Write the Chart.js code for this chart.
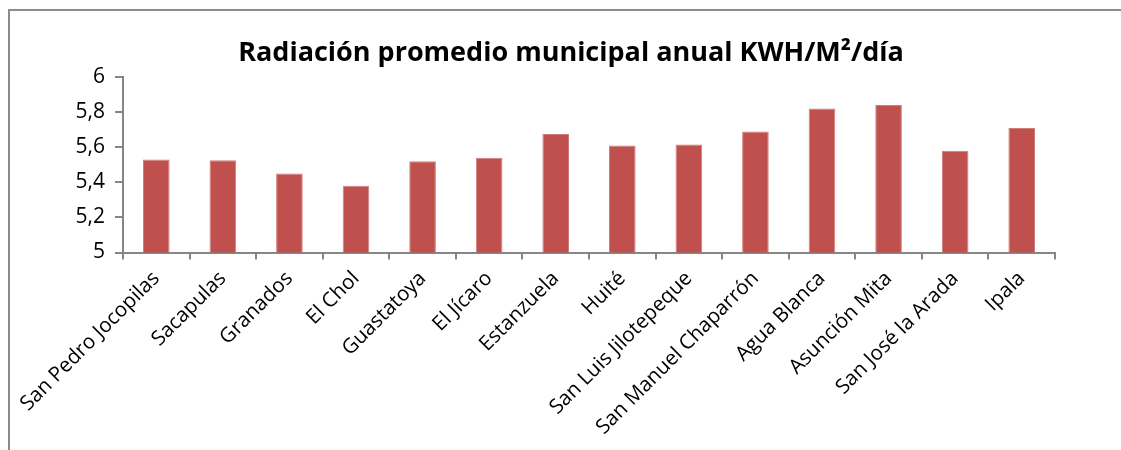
<!DOCTYPE html>
<html>
<head>
<meta charset="utf-8">
<script src="https://cdn.jsdelivr.net/npm/chart.js@4"></script>
<style>
  body { margin: 0; background: #fff; }
  #marco { position: absolute; left: 8px; top: 9px; width: 1300px; height: 600px; border: 2px solid #8c8c8c; }
  #myChart { position: absolute; left: 0; top: 0; }
</style>
</head>
<body>
<div id="marco"></div>
<canvas id="myChart" width="1121" height="450"></canvas>
<script>
const municipios = ['San Pedro Jocopilas', 'Sacapulas', 'Granados', 'El Chol', 'Guastatoya', 'El Jícaro',
  'Estanzuela', 'Huité', 'San Luis Jilotepeque', 'San Manuel Chaparrón', 'Agua Blanca', 'Asunción Mita',
  'San José la Arada', 'Ipala'];
const radiacion = [5.53, 5.525, 5.45, 5.38, 5.52, 5.54, 5.675, 5.61, 5.615, 5.69, 5.82, 5.84, 5.58, 5.71];
const titulo = 'Radiación promedio municipal anual KWH/M²/día';

// title centred on the whole frame, not on the plot area
const tituloPlugin = {
  id: 'tituloMarco',
  afterDraw: (chart) => {
    const c = chart.ctx;
    c.save();
    c.font = 'bold 27px "Open Sans"';
    c.fillStyle = '#000';
    c.textAlign = 'center';
    c.textBaseline = 'middle';
    c.fillText(titulo, 571, 53);
    c.restore();
  }
};

let plot = () => {
  const ctx = document.getElementById('myChart');
  const dataset = {
    labels: municipios,
    datasets: [{
      label: 'Radiación',
      data: radiacion,
      backgroundColor: '#C0504D',
      borderColor: '#D07C7A',
      borderWidth: { top: 1, left: 1, right: 1, bottom: 0 },
      barPercentage: 0.8,
      categoryPercentage: 0.5
    }]
  };
  const config = {
    type: 'bar',
    data: dataset,
    plugins: [tituloPlugin],
    options: {
      responsive: false,
      animation: false,
      layout: { padding: { left: 0, right: 66, top: 77, bottom: 0 } },
      plugins: {
        legend: { display: false },
        tooltip: { enabled: false },
        title: { display: false }
      },
      scales: {
        x: {
          afterFit: (s) => { s.height = 197.5; },
          grid: { offset: true, drawOnChartArea: false, drawTicks: true, tickLength: 7, color: '#868686', lineWidth: 2 },
          border: { color: '#868686', width: 2 },
          ticks: { color: '#000', font: { family: 'Open Sans', size: 20.5 }, minRotation: 45, maxRotation: 45, padding: 7 }
        },
        y: {
          min: 5,
          max: 6,
          afterFit: (s) => { s.width = 123; },
          grid: { drawOnChartArea: false, drawTicks: true, tickLength: 8, color: '#868686', lineWidth: 2 },
          border: { color: '#868686', width: 2 },
          ticks: {
            stepSize: 0.2,
            color: '#000',
            padding: 10,
            font: { family: 'Open Sans', size: 21 },
            callback: (v) => (Math.round(v * 10) / 10).toString().replace('.', ',')
          }
        }
      }
    }
  };
  const chart = new Chart(ctx, config);
};

plot();
</script>
</body>
</html>
